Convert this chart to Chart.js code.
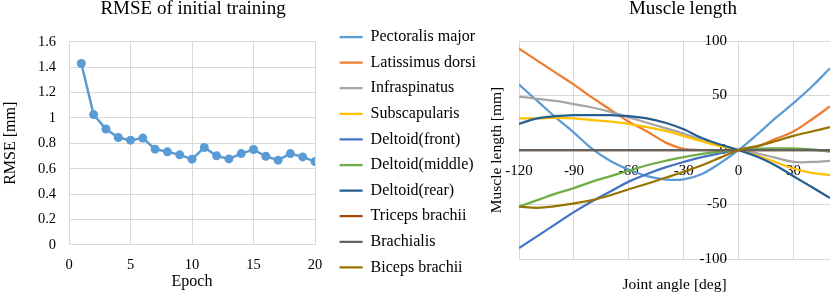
<!DOCTYPE html>
<html>
<head>
<meta charset="utf-8">
<script src="https://cdn.jsdelivr.net/npm/chart.js@4/dist/chart.umd.min.js"></script>
<style>
  body { margin: 0; background: #fff; overflow: hidden; }
  #rmseChart { position: absolute; left: 0; top: 0; }
  #muscleChart { position: absolute; left: 330px; top: 0; }
</style>
</head>
<body>
<canvas id="rmseChart" width="330" height="297"></canvas>
<canvas id="muscleChart" width="500" height="297"></canvas>
<script>
// left chart: RMSE per epoch
const epochs = [1,2,3,4,5,6,7,8,9,10,11,12,13,14,15,16,17,18,19,20];
const rmse = [1.428,1.026,0.913,0.846,0.825,0.841,0.754,0.733,0.709,0.675,0.767,0.701,0.677,0.719,0.751,0.698,0.667,0.719,0.693,0.656];

// right chart: muscle length vs joint angle
const angles = [-120,-110,-100,-90,-80,-70,-60,-50,-40,-30,-20,-10,0,10,20,30,40,50];
const muscleNames = ['Pectoralis major','Latissimus dorsi','Infraspinatus','Subscapularis','Deltoid(front)','Deltoid(middle)','Deltoid(rear)','Triceps brachii','Brachialis','Biceps brachii'];
const pectoralis    = [60,45,30,16,1,-10,-18,-24,-27,-27,-22,-12,0,14,29,43,58,75];
const latissimus    = [93,82,71,60,48,37,26,17,7,1,0,0,0,3,10,17,28,40];
const infraspinatus = [49,47,45,42,39,35,30,25,20,15,9,4,0,-3,-7,-11,-11,-10];
const subscapularis = [29,29,29.5,29,27.5,26,24,21,17.5,13,8,3.5,0,-5,-11,-17,-21,-23];
const deltoidFront  = [-90,-79,-68,-57,-47,-38,-29,-22,-16,-11,-6.5,-3,0,1,1,0.5,0,0];
const deltoidMiddle = [-52,-46,-40,-35,-29,-24,-19,-14,-10,-6.5,-3.5,-1.5,0,1,1.5,1.5,0.5,-1.5];
const deltoidRear   = [24,29,31,32,32,32,31,29,25,19,11,5,0,-6,-14,-24,-34,-44];
const triceps       = [0,0,0,0,0,0,0,0,0,0,0,0,0,0,0,0,0,0];
const brachialis    = [0,0,0,0,0,0,0,0,0,0,0,0,0,0,0,0,0,0];
const biceps        = [-52,-53,-51.5,-49,-46,-41.5,-36,-31,-25.5,-20,-14,-7,0,3.5,8,13,17,21];
const muscleSeries = [pectoralis,latissimus,infraspinatus,subscapularis,deltoidFront,deltoidMiddle,deltoidRear,triceps,brachialis,biceps];
const muscleColors = ['#5B9BD5','#ED7D31','#A5A5A5','#FFC000','#4472C4','#70AD47','#255E91','#9E480E','#636363','#997300'];

Chart.defaults.font.family = '"Liberation Serif", "Times New Roman", serif';
Chart.defaults.color = '#000';

const gridColor = '#D9D9D9';

// layout caps side boxes at a fraction of the width, so give the legend its full width back
const widenLegend = {
  id: 'widenLegend',
  afterLayout(chart) {
    const lg = chart.legend;
    lg.width = 160;
    lg.right = lg.left + 160;
  }
};

// small sideways nudge for the chart title
const shiftTitle = {
  id: 'shiftTitle',
  afterLayout(chart, args, opts) {
    const t = chart.titleBlock;
    t.left += opts.dx || 0;
    t.right += opts.dx || 0;
  }
};

new Chart(document.getElementById('rmseChart'), {
  type: 'line',
  data: {
    datasets: [{
      data: epochs.map((e, i) => ({x: e, y: rmse[i]})),
      borderColor: '#5B9BD5',
      backgroundColor: '#5B9BD5',
      borderWidth: 2.5,
      pointRadius: 4.5,
      pointBorderWidth: 0,
      tension: 0
    }]
  },
  options: {
    responsive: false,
    animation: false,
    layout: { padding: { top: 0, right: 15, bottom: 0, left: 0 } },
    plugins: {
      legend: { display: false },
      tooltip: { enabled: false },
      shiftTitle: { dx: 1 },
      title: {
        display: true,
        text: 'RMSE of initial training',
        fullSize: false,
        color: '#000',
        font: { size: 19, weight: 'normal', lineHeight: 1.2 },
        padding: { top: -2.5, bottom: 21.4 }
      }
    },
    scales: {
      x: {
        type: 'linear', min: 0, max: 20,
        // tick padding would otherwise also widen the right margin
        afterFit: s => { s.paddingRight = 0; },
        ticks: { stepSize: 5, padding: 11.7, font: { size: 14.5 } },
        grid: { color: gridColor, drawTicks: false },
        border: { color: gridColor },
        title: { display: true, text: 'Epoch', font: { size: 16, lineHeight: 1.2 }, padding: { top: -13.3, bottom: 5.4 } }
      },
      y: {
        min: 0, max: 1.6,
        ticks: { stepSize: 0.2, padding: 13, font: { size: 14.5 }, callback: v => String(+v.toFixed(2)) },
        grid: { color: gridColor, drawTicks: false },
        border: { color: gridColor },
        title: { display: true, text: 'RMSE [mm]', font: { size: 16, lineHeight: 1.2 }, padding: { top: 1.4, bottom: 4.3 } }
      }
    }
  },
  plugins: [shiftTitle]
});

new Chart(document.getElementById('muscleChart'), {
  type: 'line',
  data: {
    datasets: muscleSeries.map((vals, i) => ({
      label: muscleNames[i],
      data: angles.map((a, j) => ({x: a, y: vals[j]})),
      borderColor: muscleColors[i],
      backgroundColor: muscleColors[i],
      borderWidth: 2.25,
      pointRadius: 0,
      tension: 0.4,
      order: muscleSeries.length - i
    }))
  },
  options: {
    responsive: false,
    animation: false,
    layout: { padding: { top: 19.4, right: 0, bottom: 0, left: 0 } },
    plugins: {
      tooltip: { enabled: false },
      shiftTitle: { dx: 8.5 },
      title: {
        display: true,
        text: 'Muscle length',
        fullSize: false,
        color: '#000',
        font: { size: 19, weight: 'normal', lineHeight: 1.2 },
        padding: { top: -22.2, bottom: 21 }
      },
      legend: {
        position: 'left',
        align: 'start',
        labels: {
          usePointStyle: true,
          pointStyle: 'line',
          pointStyleWidth: 23,
          padding: 9.6,
          font: { size: 16 },
          sort: (a, b) => a.datasetIndex - b.datasetIndex
        }
      }
    },
    scales: {
      x: {
        type: 'linear', min: -120, max: 50,
        position: { y: 0 },
        afterFit: s => { s.height = 0; },
        ticks: { stepSize: 30, includeBounds: false, padding: 12, font: { size: 15 } },
        grid: { color: gridColor, drawTicks: false },
        border: { color: gridColor }
      },
      y: {
        min: -100, max: 100,
        // labels sit a little left of the zero line; the line itself is the x grid at 0
        position: { x: -6.3 },
        afterFit: s => { s.width = 0; },
        ticks: { stepSize: 50, font: { size: 15 } },
        grid: { color: gridColor, drawTicks: false },
        border: { display: false }
      },
      xt: {
        type: 'linear', axis: 'x', position: 'bottom',
        ticks: { display: false },
        grid: { display: false, drawTicks: false },
        border: { display: false },
        title: { display: true, text: 'Joint angle [deg]', font: { size: 15.5, lineHeight: 1.2 }, padding: { top: 16.5, bottom: 2.9 } }
      },
      yt: {
        type: 'linear', axis: 'y', position: 'left',
        afterFit: s => { s.width = 189 - s.chart.legend.width; },
        ticks: { display: false },
        grid: { display: false, drawTicks: false },
        border: { display: false },
        title: { display: true, text: 'Muscle length [mm]', font: { size: 15.5, lineHeight: 1.2 }, padding: { top: 74.4, bottom: 12.7 } }
      }
    }
  },
  plugins: [widenLegend, shiftTitle]
});
</script>
</body>
</html>
